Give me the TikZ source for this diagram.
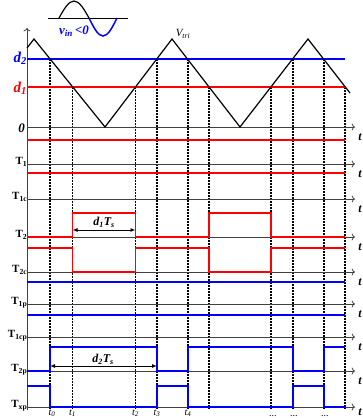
\documentclass[tikz,border=0pt]{standalone}
\usepackage{fontspec}
\setmainfont{Liberation Serif}
\usetikzlibrary{arrows.meta}
\begin{document}
\begin{tikzpicture}[x=1pt,y=-1pt,
  every node/.style={inner sep=1pt},
  axisline/.style={->, black!75, line width=0.8pt},
  sigred/.style={red, line width=1.6pt},
  sigblue/.style={blue, line width=1.6pt},
  drop/.style={dash pattern=on 2pt off 1pt, line width=1.1pt},
  span/.style={{Latex[length=5pt,width=4pt]}-{Latex[length=5pt,width=4pt]}, line width=1pt},
  rowlab/.style={anchor=base east, font=\bfseries\fontsize{11}{12}\selectfont},
  tlab/.style={font=\bfseries\itshape\fontsize{12}{13}\selectfont},
  lvl/.style={anchor=east, font=\bfseries\itshape\fontsize{15}{16}\selectfont}]
\useasboundingbox (0,0) rectangle (363,418);
\foreach \x in {50,157,188,293,324} \draw[drop] (\x,59) -- (\x,409);
\foreach \x in {72.5,135.5,209,271,345} \draw[drop] (\x,87) -- (\x,409);
\draw[axisline] (27,410) -- (27,28);
\draw[axisline] (27,127) -- (355,127);
\node[tlab] (tz) at (360,137) {t};
\foreach \y/\nm/\lab/\dy in {164/a/1/10, 199/b/1c/10, 237/c/2/10, 272/d/2c/10, 304/e/1p/10, 337/f/1cp/10, 371/g/2p/10, 407/h/xp/5}{
  \draw[axisline] (27,\y) -- (355,\y);
  \node[rowlab] (l\nm) at (28.5,\y+0.5) {T\textsubscript{\lab}};
  \node[tlab] (t\nm) at (360,\y+\dy) {t};
}
\draw[line width=1pt] (48,18) -- (128,18);
\draw[line width=1.2pt] (59,18) sin (74,1) cos (89,18);
\draw[blue, line width=1.5pt] (89,18) sin (103,36) cos (117,18);
\node[blue, font=\bfseries\itshape\fontsize{13}{14}\selectfont] (vin) at (74,31) {v\textsubscript{in}\,<0};
\node[font=\itshape\fontsize{11}{12}\selectfont] (vtri) at (183,34) {V\textsubscript{tri}};
\draw[blue, line width=1.5pt] (27,59) -- (345,59);
\draw[red, line width=1.5pt] (27,87) -- (345,87);
\node[lvl, blue] (ld2) at (28,58) {d\textsubscript{2}};
\node[lvl, red] (ld1) at (28,88) {d\textsubscript{1}};
\node[lvl, font=\bfseries\itshape\fontsize{13}{14}\selectfont] (lzero) at (26,128) {0};
\draw[line width=1.2pt] (27,48) -- (34,39) -- (105,127) -- (172,39) -- (240,127) -- (308,39) -- (350,93);
\draw[sigred] (27,140) -- (345,140);
\draw[sigred] (27,173) -- (345,173);
\draw[sigred] (27,237) -| (72.5,213) -| (135.5,237) -| (209,213) -| (271,237) -- (345,237);
\draw[sigred] (27,248) -| (72.5,272) -| (135.5,248) -| (209,272) -| (271,248) -- (345,248);
\draw[sigblue] (27,282) -- (345,282);
\draw[sigblue] (27,315) -- (345,315);
\draw[sigblue] (27,371) -| (50,347) -| (157,371) -| (188,347) -| (293,371) -| (324,347) -- (345,347);
\draw[sigblue] (27,386) -| (50,407) -| (157,386) -| (188,407) -| (293,386) -| (324,407) -- (345,407);
\coordinate (s1a) at (72.5,230);
\coordinate (s1b) at (135.5,230);
\draw[span] (s1a) -- (s1b);
\node[font=\bfseries\itshape\fontsize{12}{13}\selectfont] (dts1) at (104,222) {d\textsubscript{1}T\textsubscript{s}};
\coordinate (s2a) at (50,366);
\coordinate (s2b) at (157,366);
\draw[span] (s2a) -- (s2b);
\node[font=\bfseries\itshape\fontsize{12}{13}\selectfont] (dts2) at (103,359) {d\textsubscript{2}T\textsubscript{s}};
\foreach \x/\k in {52/0, 72.5/1, 135.5/2, 157/3, 188/4}
  \node[anchor=north, font=\itshape\fontsize{10}{11}\selectfont] (tm\k) at (\x,408.5) {t\textsubscript{\k}};
\foreach \x/\k in {273/a, 294/b, 325/c}
  \node[anchor=base, font=\itshape\fontsize{10}{11}\selectfont] (dots\k) at (\x,416.5) {...};
\end{tikzpicture}
\end{document}
